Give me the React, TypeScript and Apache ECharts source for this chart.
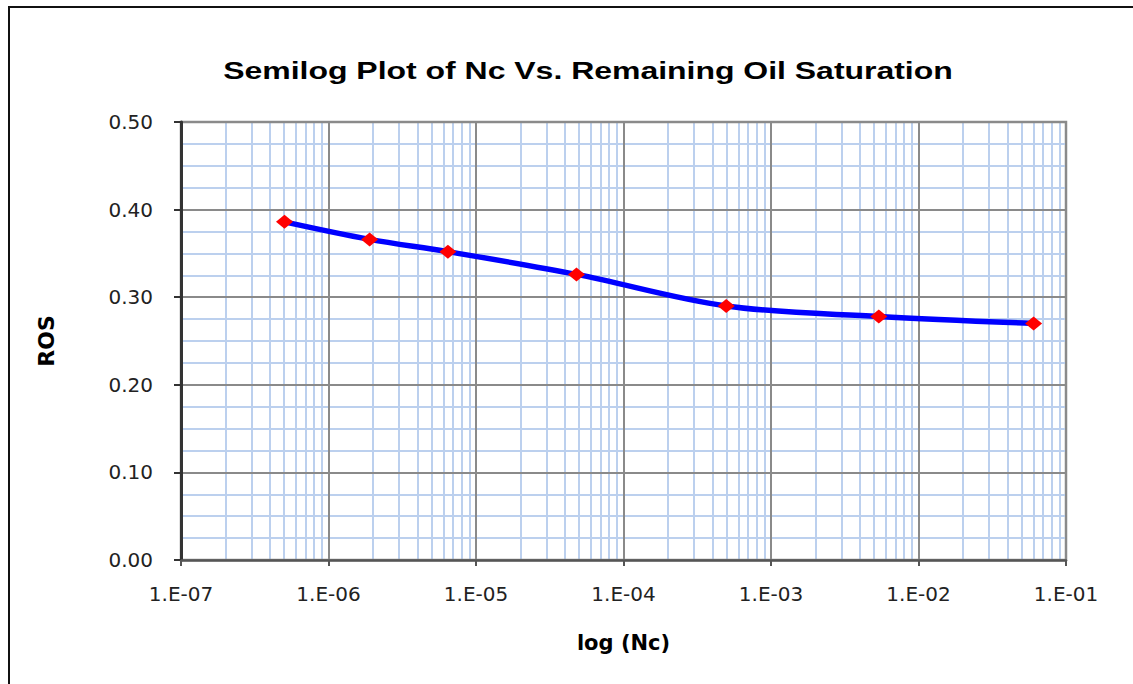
import React, { useEffect, useRef } from "react";
import * as echarts from "echarts";

const titleText = "Semilog Plot of Nc Vs. Remaining Oil Saturation";
const xAxisName = "log (Nc)";
const yAxisName = "ROS";

const ncValues = [5.03e-7, 1.9e-6, 6.45e-6, 4.8e-5, 4.97e-4, 5.38e-3, 6.03e-2];
const rosValues = [0.386, 0.366, 0.352, 0.326, 0.29, 0.278, 0.27];

const xTickLabels = ["1.E-07", "1.E-06", "1.E-05", "1.E-04", "1.E-03", "1.E-02", "1.E-01"];
const yTickLabels = ["0.00", "0.10", "0.20", "0.30", "0.40", "0.50"];

const decadeExponents = [-7, -6, -5, -4, -3, -2];
const minorMultipliers = [2, 3, 4, 5, 6, 7, 8, 9];

export default function App() {
  const ref = useRef<HTMLDivElement>(null);

  useEffect(() => {
    if (!ref.current) return;
    const chart = echarts.init(ref.current, undefined, { renderer: "svg" });

    const minorLines: any[] = [];
    decadeExponents.forEach((e) => {
      minorMultipliers.forEach((m) => {
        const v = m * Math.pow(10, e);
        minorLines.push({ coords: [[v, 0], [v, 0.5]] });
      });
    });

    const labelFont = "DejaVu Sans";
    chart.setOption({
      animation: false,
      backgroundColor: "#ffffff",
      graphic: [
        {
          type: "rect",
          shape: { x: 9, y: 7, width: 1140, height: 700 },
          style: { fill: "none", stroke: "#111", lineWidth: 2 },
          silent: true,
        },
        {
          type: "text",
          x: 588,
          y: 71,
          scaleX: 1.39,
          style: {
            text: titleText,
            font: 'bold 23px "Liberation Sans"',
            fill: "#000",
            textAlign: "center",
            textVerticalAlign: "middle",
          },
        },
      ],
      grid: {
        left: 181,
        top: 122,
        width: 885,
        height: 438,
        show: true,
        borderColor: "#8a8a8a",
        borderWidth: 2.5,
      },
      xAxis: {
        type: "log",
        logBase: 10,
        min: 1e-7,
        max: 1e-1,
        splitNumber: 6,
        name: xAxisName,
        nameLocation: "middle",
        nameGap: 72,
        nameTextStyle: { fontFamily: labelFont, fontWeight: "bold", fontSize: 21, color: "#000" },
        axisLine: { show: true, lineStyle: { color: "#555", width: 2.5 } },
        axisTick: { show: true, length: 6, inside: false, lineStyle: { color: "#555", width: 2 } },
        axisLabel: {
          margin: 24,
          fontFamily: labelFont,
          fontSize: 20,
          color: "#222",
          formatter: (v: number) => xTickLabels[Math.round(Math.log10(v)) + 7],
        },
        splitLine: { show: true, lineStyle: { color: "#8a8a8a", width: 2 } },
      },
      yAxis: {
        type: "value",
        min: 0,
        max: 0.5,
        interval: 0.1,
        name: yAxisName,
        nameLocation: "middle",
        nameGap: 124,
        nameRotate: 90,
        nameTextStyle: { fontFamily: labelFont, fontWeight: "bold", fontSize: 22, color: "#000" },
        axisLine: { show: true, lineStyle: { color: "#333", width: 3 } },
        axisTick: { show: true, length: 7, inside: false, lineStyle: { color: "#333", width: 2 } },
        axisLabel: {
          margin: 28,
          fontFamily: labelFont,
          fontSize: 20,
          color: "#222",
          formatter: (v: number) => yTickLabels[Math.round(v * 10)],
        },
        splitLine: { show: true, lineStyle: { color: "#8a8a8a", width: 2 } },
        minorTick: { show: false, splitNumber: 4 },
        minorSplitLine: { show: true, lineStyle: { color: "#bcd0ee", width: 2 } },
      },
      series: [
        {
          type: "lines",
          coordinateSystem: "cartesian2d",
          z: -1,
          silent: true,
          symbol: ["none", "none"],
          lineStyle: { color: "#bcd0ee", width: 2, opacity: 1 },
          data: minorLines,
        },
        {
          type: "line",
          z: 5,
          data: ncValues.map((x, i) => [x, rosValues[i]]),
          smooth: 0.35,
          symbol: "diamond",
          symbolSize: [17, 14],
          itemStyle: { color: "#ff0000" },
          lineStyle: { color: "#0000ff", width: 5.5 },
        },
      ],
    });

    return () => chart.dispose();
  }, []);

  return (
    <div
      ref={ref}
      style={{ position: "fixed", left: 0, top: 0, width: 1133, height: 684 }}
    />
  );
}
